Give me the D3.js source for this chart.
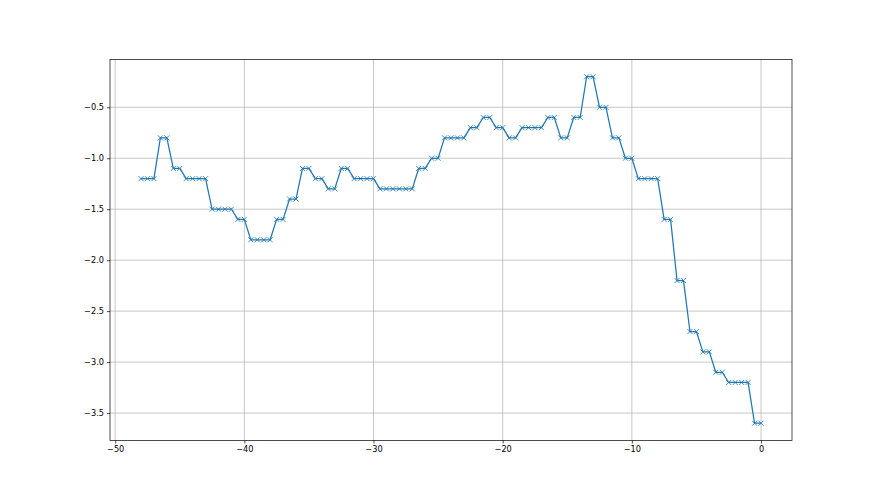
<!DOCTYPE html>
<html>
<head>
<meta charset="utf-8">
<script src="https://cdn.jsdelivr.net/npm/d3@7"></script>
<style>
body { margin: 0; background: #fff; }
svg { display: block; }
</style>
</head>
<body>
<div id="chart"></div>
<script>
// data
var xVals = [-48, -47.5, -47, -46.5, -46, -45.5, -45, -44.5, -44, -43.5, -43,
  -42.5, -42, -41.5, -41, -40.5, -40, -39.5, -39, -38.5, -38, -37.5, -37,
  -36.5, -36, -35.5, -35, -34.5, -34, -33.5, -33, -32.5, -32, -31.5, -31,
  -30.5, -30, -29.5, -29, -28.5, -28, -27.5, -27, -26.5, -26, -25.5, -25,
  -24.5, -24, -23.5, -23, -22.5, -22, -21.5, -21, -20.5, -20, -19.5, -19,
  -18.5, -18, -17.5, -17, -16.5, -16, -15.5, -15, -14.5, -14, -13.5, -13,
  -12.5, -12, -11.5, -11, -10.5, -10, -9.5, -9, -8.5, -8, -7.5, -7, -6.5, -6,
  -5.5, -5, -4.5, -4, -3.5, -3, -2.5, -2, -1.5, -1, -0.5, 0];

var yVals = [-1.2, -1.2, -1.2, -0.8, -0.8, -1.1, -1.1, -1.2, -1.2, -1.2, -1.2,
  -1.5, -1.5, -1.5, -1.5, -1.6, -1.6, -1.8, -1.8, -1.8, -1.8, -1.6, -1.6,
  -1.4, -1.4, -1.1, -1.1, -1.2, -1.2, -1.3, -1.3, -1.1, -1.1, -1.2, -1.2,
  -1.2, -1.2, -1.3, -1.3, -1.3, -1.3, -1.3, -1.3, -1.1, -1.1, -1.0, -1.0,
  -0.8, -0.8, -0.8, -0.8, -0.7, -0.7, -0.6, -0.6, -0.7, -0.7, -0.8, -0.8,
  -0.7, -0.7, -0.7, -0.7, -0.6, -0.6, -0.8, -0.8, -0.6, -0.6, -0.2, -0.2,
  -0.5, -0.5, -0.8, -0.8, -1.0, -1.0, -1.2, -1.2, -1.2, -1.2, -1.6, -1.6,
  -2.2, -2.2, -2.7, -2.7, -2.9, -2.9, -3.1, -3.1, -3.2, -3.2, -3.2, -3.2,
  -3.6, -3.6];

var xTicks = [-50, -40, -30, -20, -10, 0];
var yTicks = [-3.5, -3.0, -2.5, -2.0, -1.5, -1.0, -0.5];

var W = 880, H = 495;
var margin = {left: 110, right: 88, top: 59.4, bottom: 54.45};
var iw = W - margin.left - margin.right,
    ih = H - margin.top - margin.bottom;

var svg = d3.select("#chart").append("svg")
  .attr("width", W).attr("height", H)
  .style("font-family", "'DejaVu Sans', sans-serif");

var g = svg.append("g").attr("transform", "translate(" + margin.left + "," + margin.top + ")");

// matplotlib style 5% padding
var xr = d3.extent(xVals), yr = d3.extent(yVals);
var xpad = (xr[1] - xr[0]) * 0.05, ypad = (yr[1] - yr[0]) * 0.05;
var x = d3.scaleLinear().domain([xr[0] - xpad, xr[1] + xpad]).range([0, iw]);
var y = d3.scaleLinear().domain([yr[0] - ypad, yr[1] + ypad]).range([ih, 0]);

var minus = function(s) { return s.replace("-", "\u2212"); };

// grid
g.append("g").selectAll("line").data(xTicks).enter().append("line")
  .attr("x1", d => x(d)).attr("x2", d => x(d))
  .attr("y1", 0).attr("y2", ih)
  .attr("stroke", "#b0b0b0").attr("stroke-width", 0.7);
g.append("g").selectAll("line").data(yTicks).enter().append("line")
  .attr("y1", d => y(d)).attr("y2", d => y(d))
  .attr("x1", 0).attr("x2", iw)
  .attr("stroke", "#b0b0b0").attr("stroke-width", 0.7);

// axes
var xAxis = g.append("g").attr("transform", "translate(0," + ih + ")")
  .call(d3.axisBottom(x).tickValues(xTicks).tickSize(3).tickPadding(3)
    .tickFormat(d => minus(d3.format("d")(d))));
var yAxis = g.append("g")
  .call(d3.axisLeft(y).tickValues(yTicks).tickSize(3).tickPadding(3)
    .tickFormat(d => minus(d3.format(".1f")(d))));

[xAxis, yAxis].forEach(function(a) {
  a.select(".domain").remove();
  a.selectAll(".tick line").attr("stroke", "#000").attr("stroke-width", 0.7);
  a.selectAll(".tick text").attr("fill", "#000")
    .style("font-size", "8.2px").style("font-family", "'DejaVu Sans', sans-serif");
});

// line
var line = d3.line().x((d, i) => x(xVals[i])).y(d => y(d));
g.append("path").datum(yVals)
  .attr("d", line)
  .attr("fill", "none")
  .attr("stroke", "#1f77b4")
  .attr("stroke-width", 1.25)
  .attr("stroke-linejoin", "round");

// x markers
var ms = 2.5;
g.append("g").selectAll("path").data(yVals).enter().append("path")
  .attr("d", (d, i) => {
    var px = x(xVals[i]), py = y(d);
    return "M" + (px - ms) + "," + (py - ms) + "L" + (px + ms) + "," + (py + ms) +
      "M" + (px - ms) + "," + (py + ms) + "L" + (px + ms) + "," + (py - ms);
  })
  .attr("stroke", "#1f77b4")
  .attr("stroke-width", 0.85)
  .attr("fill", "none");

// spines
g.append("rect").attr("x", 0).attr("y", 0).attr("width", iw).attr("height", ih)
  .attr("fill", "none").attr("stroke", "#000").attr("stroke-width", 0.7);
</script>
</body>
</html>
